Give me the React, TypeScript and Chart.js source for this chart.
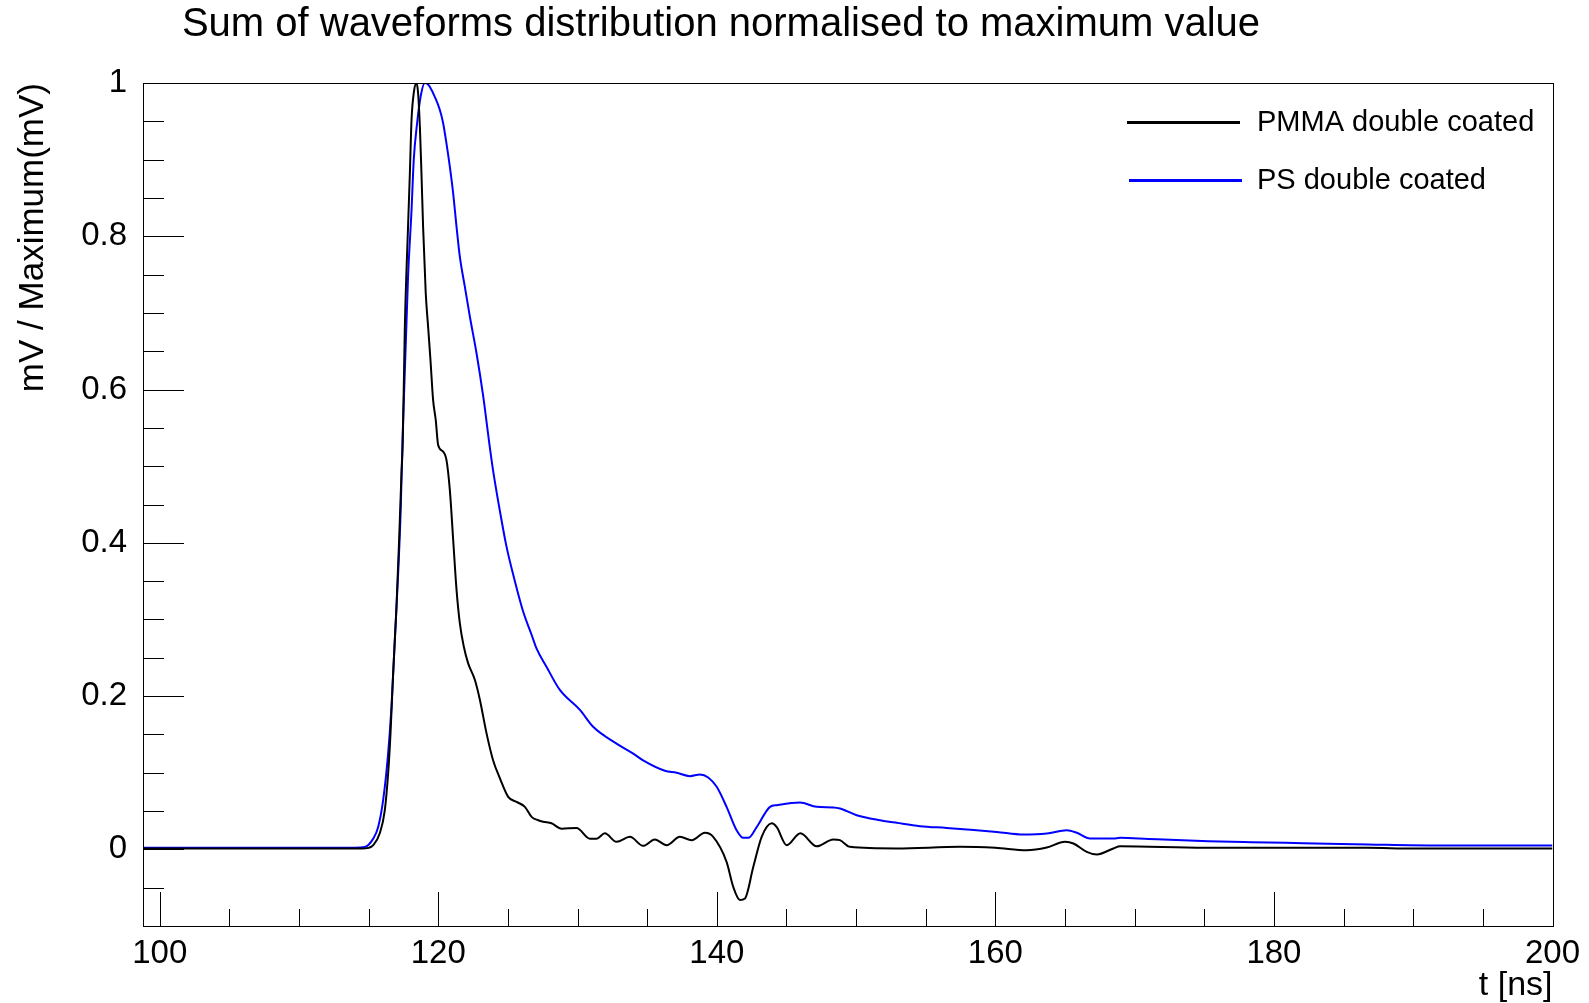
import React, { useEffect, useRef } from "react";
import { Chart, registerables } from "chart.js";

Chart.register(...registerables);

const TITLE = "Sum of waveforms distribution normalised to maximum value";
const X_TITLE = "t [ns]";
const Y_TITLE = "mV / Maximum(mV)";
const SERIES_NAMES = ["PMMA double coated", "PS double coated"];
const SERIES_COLORS = ["#000000", "#0000ff"];

const X_TICKS = [100, 120, 140, 160, 180, 200];
const Y_TICKS = [0, 0.2, 0.4, 0.6, 0.8, 1];
const X_RANGE = [98.8, 200];
const Y_RANGE = [-0.1, 1];

// PMMA double coated (black)
const PMMA_T = [
  98.8, 105, 110, 114.5, 115.0, 115.33, 115.8, 116.16, 116.4, 116.57, 116.76, 117.0, 117.19, 117.36,
  117.45, 117.6, 117.83, 117.96, 118.08, 118.24, 118.44, 118.55, 118.68, 118.8, 118.91, 119.1,
  119.27, 119.44, 119.63, 119.82, 119.99, 120.35, 120.59, 120.83, 121.07, 121.31, 121.55, 121.84,
  122.14, 122.63, 122.99, 123.47, 123.94, 124.42, 125.02, 125.62, 126.22, 126.7, 127.17, 127.53,
  128.13, 128.85, 129.93, 130.89, 131.37, 131.96, 132.8, 133.76, 134.71, 135.55, 136.4, 137.35,
  138.19, 139.15, 139.74, 140.7, 141.18, 141.66, 142.02, 142.62, 143.22, 143.94, 144.3, 145.02,
  146.0, 147.17, 148.36, 148.84, 149.56, 152.92, 157.46, 160, 162.25, 163.69, 165.0, 165.6, 166.56,
  167.28, 168.47, 168.96, 175, 186.7, 190, 200,
];
const PMMA_V = [
  0.001, 0.001, 0.001, 0.001, 0.002, 0.0055, 0.021, 0.051, 0.099, 0.151, 0.23, 0.317, 0.404, 0.491,
  0.53, 0.682, 0.8126, 0.882, 0.952, 0.987, 1.0, 0.987, 0.943, 0.878, 0.8126, 0.7256,
  0.682, 0.6386, 0.5863, 0.56, 0.5276, 0.519, 0.508, 0.469, 0.404, 0.339, 0.295, 0.264,
  0.243, 0.221, 0.195, 0.151, 0.116, 0.093, 0.0685, 0.062, 0.0555, 0.0424, 0.038, 0.036,
  0.034, 0.027, 0.028, 0.014, 0.014, 0.021, 0.0098, 0.0163, 0.0046, 0.0129, 0.0055, 0.0163,
  0.012, 0.0216, 0.0163, -0.0163, -0.049, -0.066, -0.064, -0.0228, 0.0163, 0.034, 0.029, 0.0055,
  0.021, 0.004, 0.013, 0.012, 0.0033, 0.0012, 0.0033, 0.002, -0.001, 0.0025, 0.0098, 0.0077, -0.0033,
  -0.0067, 0.0012, 0.004, 0.002, 0.002, 0.001, 0.001,
];

// PS double coated (blue)
const PS_T = [
  98.8, 105, 110, 114.0, 114.72, 115.33, 115.68, 116.04, 116.4, 116.64, 116.88, 117.12, 117.31,
  117.43, 117.83, 118.08, 118.24, 118.48, 118.73, 119.03, 119.27, 119.39, 119.75, 120.11, 120.35,
  120.59, 120.83, 121.07, 121.31, 121.55, 121.91, 122.27, 122.75, 123.22, 123.7, 123.94, 124.42,
  124.9, 125.5, 126.1, 126.7, 127.06, 127.78, 128.73, 130.17, 131.12, 132.8, 134.0, 134.71, 136.27,
  137.11, 138.07, 138.79, 139.38, 139.99, 140.7, 141.42, 141.9, 142.26, 142.86, 143.82, 144.3,
  145.97, 147.17, 148.36, 148.84, 150.04, 151.72, 152.92, 154.59, 156.5, 157.95, 160.1, 162.01,
  163.69, 165.13, 165.85, 166.8, 168.47, 168.96, 171, 175.3, 178.4, 182.1, 186.8, 191.8, 200,
];
const PS_V = [
  0.002, 0.002, 0.002, 0.002, 0.003, 0.014, 0.029, 0.064, 0.125, 0.186, 0.273, 0.36, 0.447,
  0.534, 0.747, 0.834, 0.9, 0.9475, 0.982, 1.0, 0.998, 0.995, 0.982, 0.965, 0.9475,
  0.921, 0.891, 0.856, 0.8126, 0.773, 0.734, 0.695, 0.647, 0.592, 0.525, 0.494, 0.442,
  0.395, 0.35, 0.31, 0.28, 0.262, 0.238, 0.208, 0.182, 0.16, 0.138, 0.125, 0.116, 0.1025,
  0.0999, 0.0955, 0.0977, 0.0938, 0.0816, 0.0555, 0.025, 0.015, 0.015, 0.029, 0.0555, 0.0577,
  0.061, 0.0555, 0.0547, 0.0533, 0.0446, 0.038, 0.0346, 0.0303, 0.028, 0.026, 0.0228, 0.0194,
  0.0207, 0.025, 0.0216, 0.0142, 0.0142, 0.015, 0.0135, 0.0107, 0.0094, 0.0081, 0.0064, 0.0051, 0.0051,
];

const FONT = "'Liberation Sans', Arial, Helvetica, sans-serif";

const rootFramePlugin = {
  id: "rootFrame",
  afterDatasetsDraw(chart: any) {
    const { ctx, chartArea } = chart;
    const xs = chart.scales.x;
    const ys = chart.scales.y;
    const { left, right, top, bottom } = chartArea;
    ctx.save();
    ctx.strokeStyle = "#000";
    ctx.lineWidth = 1;
    ctx.strokeRect(Math.round(left) + 0.5, Math.round(top) + 0.5, Math.round(right - left), Math.round(bottom - top));
    ctx.beginPath();
    const yStepMinor = (Y_TICKS[1] - Y_TICKS[0]) / 4;
    const yStart = Math.ceil((ys.min + 1e-9) / yStepMinor);
    const yEnd = Math.floor((ys.max - 1e-9) / yStepMinor);
    for (let k = yStart; k <= yEnd; k++) {
      const v = k * yStepMinor;
      const isMajor = Y_TICKS.some((m) => Math.abs(m - v) < 1e-6);
      const py = Math.round(ys.getPixelForValue(v)) + 0.5;
      ctx.moveTo(left, py);
      ctx.lineTo(left + (isMajor ? 41 : 21), py);
    }
    const xStepMinor = (X_TICKS[1] - X_TICKS[0]) / 4;
    const xStart = Math.ceil(xs.min / xStepMinor);
    const xEnd = Math.floor(xs.max / xStepMinor);
    for (let k = xStart; k <= xEnd; k++) {
      const v = k * xStepMinor;
      const isMajor = X_TICKS.some((m) => Math.abs(m - v) < 1e-6);
      const px = Math.round(xs.getPixelForValue(v)) + 0.5;
      ctx.moveTo(px, bottom);
      ctx.lineTo(px, bottom - (isMajor ? 34 : 17));
    }
    ctx.stroke();
    ctx.restore();
  },
  afterDraw(chart: any) {
    const { ctx } = chart;
    ctx.save();
    ctx.fillStyle = "#000";
    ctx.font = `40px ${FONT}`;
    ctx.textAlign = "center";
    ctx.textBaseline = "middle";
    ctx.fillText(TITLE, 721, 24.5);
    const rows = [
      { y: 122.5, x0: 1127, x1: 1240 },
      { y: 180.5, x0: 1129, x1: 1242 },
    ];
    chart.data.datasets.forEach((ds: any, i: number) => {
      const r = rows[i];
      ctx.strokeStyle = ds.borderColor;
      ctx.lineWidth = 3;
      ctx.beginPath();
      ctx.moveTo(r.x0, r.y);
      ctx.lineTo(r.x1, r.y);
      ctx.stroke();
      ctx.fillStyle = "#000";
      ctx.font = `29px ${FONT}`;
      ctx.textAlign = "left";
      ctx.textBaseline = "middle";
      ctx.fillText(ds.label, 1257, r.y);
    });
    ctx.restore();
  },
};

export default function App() {
  const ref = useRef<HTMLCanvasElement | null>(null);

  useEffect(() => {
    if (!ref.current) return;
    const toPts = (ts: number[], vs: number[]) => ts.map((t, i) => ({ x: t, y: vs[i] }));
    const chart = new Chart(ref.current, {
      type: "line",
      data: {
        datasets: [
          {
            label: SERIES_NAMES[0],
            data: toPts(PMMA_T, PMMA_V),
            borderColor: SERIES_COLORS[0],
            backgroundColor: SERIES_COLORS[0],
            borderWidth: 2,
            pointRadius: 0,
            cubicInterpolationMode: "monotone",
            fill: false,
          },
          {
            label: SERIES_NAMES[1],
            data: toPts(PS_T, PS_V),
            borderColor: SERIES_COLORS[1],
            backgroundColor: SERIES_COLORS[1],
            borderWidth: 2,
            pointRadius: 0,
            cubicInterpolationMode: "monotone",
            fill: false,
          },
        ],
      },
      options: {
        animation: false,
        responsive: false,
        maintainAspectRatio: false,
        events: [],
        layout: { padding: { top: 83, right: 36.5, left: 0, bottom: 0 } },
        plugins: {
          legend: { display: false },
          title: { display: false },
          tooltip: { enabled: false },
        },
        scales: {
          x: {
            type: "linear",
            position: "bottom",
            min: X_RANGE[0],
            max: X_RANGE[1],
            afterBuildTicks: (s: any) => {
              s.ticks = X_TICKS.map((v) => ({ value: v }));
            },
            afterFit: (s: any) => {
              s.height = 77;
            },
            grid: { display: false },
            border: { display: false },
            ticks: {
              padding: 0,
              color: "#000",
              maxRotation: 0,
              autoSkip: false,
              font: { family: FONT, size: 33 },
              callback: (v: any) => String(v),
            },
            title: {
              display: true,
              text: X_TITLE,
              align: "end",
              color: "#000",
              font: { family: FONT, size: 34, lineHeight: 1 },
              padding: { top: 0, bottom: 0 },
            },
          },
          y: {
            type: "linear",
            position: "left",
            min: Y_RANGE[0],
            max: Y_RANGE[1],
            afterBuildTicks: (s: any) => {
              s.ticks = Y_TICKS.map((v) => ({ value: v }));
            },
            afterFit: (s: any) => {
              s.width = 143;
            },
            grid: { display: false },
            border: { display: false },
            ticks: {
              padding: 8,
              color: "#000",
              autoSkip: false,
              font: { family: FONT, size: 33 },
              callback: (v: any) => String(Math.round(Number(v) * 10) / 10),
            },
            title: {
              display: true,
              text: Y_TITLE,
              align: "end",
              color: "#000",
              font: { family: FONT, size: 35, lineHeight: 1 },
              padding: { top: 16, bottom: 0 },
            },
          },
        },
      },
      plugins: [rootFramePlugin],
    } as any);
    return () => chart.destroy();
  }, []);

  return (
    <div style={{ position: "absolute", left: 0, top: 0, width: 1589, height: 1003, background: "#fff" }}>
      <canvas ref={ref} width={1589} height={1003} style={{ width: 1589, height: 1003, display: "block" }} />
    </div>
  );
}
